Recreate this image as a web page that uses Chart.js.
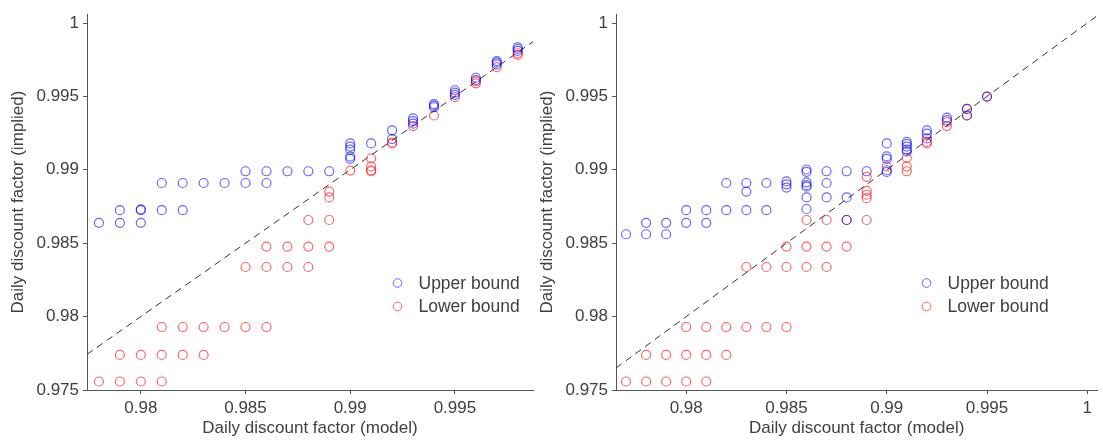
<!DOCTYPE html>
<html>
<head>
<meta charset="utf-8">
<script src="https://cdn.jsdelivr.net/npm/chart.js@4.4.0/dist/chart.umd.min.js"></script>
<style>
  html, body { margin: 0; padding: 0; background: #fff; }
  body { width: 1103px; height: 443px; position: relative; overflow: hidden; }
  .box { position: absolute; top: 0; height: 443px; }
  #left { left: 0; width: 545px; }
  #right { left: 529px; width: 574px; }
</style>
</head>
<body>
<div class="box" id="left"><canvas id="chart-left"></canvas></div>
<div class="box" id="right"><canvas id="chart-right"></canvas></div>
<script>
// left panel
const leftUpperX = [0.978, 0.979, 0.979, 0.98, 0.98, 0.98, 0.981, 0.981, 0.982, 0.982, 0.983, 0.984, 0.985, 0.985, 0.986, 0.986, 0.987, 0.988, 0.989, 0.99, 0.99, 0.99, 0.99, 0.99, 0.991, 0.992, 0.992, 0.993, 0.993, 0.993, 0.994, 0.994, 0.994, 0.995, 0.995, 0.995, 0.996, 0.996, 0.997, 0.997, 0.997, 0.998, 0.998, 0.998];
const leftUpperY = [0.98639, 0.98639, 0.98725, 0.98639, 0.98725, 0.98731, 0.98725, 0.9891, 0.98725, 0.9891, 0.9891, 0.9891, 0.9891, 0.9899, 0.9891, 0.9899, 0.9899, 0.9899, 0.9899, 0.9918, 0.99158, 0.99137, 0.9909, 0.99075, 0.9918, 0.99269, 0.99209, 0.9935, 0.99332, 0.99314, 0.99448, 0.99437, 0.99426, 0.99542, 0.99526, 0.99511, 0.99627, 0.99611, 0.99741, 0.9973, 0.99718, 0.99834, 0.99823, 0.9981];
const leftLowerX = [0.978, 0.979, 0.979, 0.98, 0.98, 0.981, 0.981, 0.981, 0.982, 0.982, 0.983, 0.983, 0.984, 0.985, 0.985, 0.986, 0.986, 0.986, 0.987, 0.987, 0.988, 0.988, 0.988, 0.989, 0.989, 0.989, 0.989, 0.99, 0.991, 0.991, 0.991, 0.991, 0.992, 0.992, 0.993, 0.994, 0.995, 0.996, 0.996, 0.997, 0.998, 0.998];
const leftLowerY = [0.97558, 0.97558, 0.97739, 0.97558, 0.97739, 0.97558, 0.97739, 0.97929, 0.97739, 0.97929, 0.97739, 0.97929, 0.97929, 0.97929, 0.98338, 0.97929, 0.98338, 0.98477, 0.98338, 0.98477, 0.98338, 0.98477, 0.98658, 0.98477, 0.98658, 0.98812, 0.98852, 0.98995, 0.9899, 0.98997, 0.99023, 0.99077, 0.9918, 0.99186, 0.99298, 0.9937, 0.99495, 0.99589, 0.99602, 0.997, 0.99794, 0.99783];

// right panel
const rightUpperX = [0.977, 0.978, 0.978, 0.979, 0.979, 0.98, 0.98, 0.981, 0.981, 0.982, 0.982, 0.983, 0.983, 0.983, 0.984, 0.984, 0.985, 0.985, 0.985, 0.986, 0.986, 0.986, 0.986, 0.986, 0.986, 0.986, 0.987, 0.987, 0.987, 0.988, 0.988, 0.988, 0.989, 0.99, 0.99, 0.99, 0.99, 0.99, 0.991, 0.991, 0.991, 0.991, 0.991, 0.992, 0.992, 0.992, 0.993, 0.993, 0.994, 0.994, 0.995];
const rightUpperY = [0.98561, 0.98561, 0.98639, 0.98561, 0.98639, 0.98639, 0.98725, 0.98639, 0.98725, 0.98725, 0.9891, 0.98725, 0.98852, 0.9891, 0.98725, 0.9891, 0.98879, 0.98901, 0.98921, 0.98733, 0.98812, 0.98885, 0.98895, 0.98915, 0.98986, 0.99002, 0.98812, 0.9891, 0.9899, 0.98658, 0.98812, 0.9899, 0.9899, 0.98985, 0.98997, 0.99075, 0.99091, 0.9918, 0.99124, 0.99138, 0.99158, 0.99176, 0.99191, 0.99214, 0.99247, 0.99269, 0.99339, 0.99355, 0.9937, 0.99415, 0.99499];
const rightLowerX = [0.977, 0.978, 0.978, 0.979, 0.979, 0.98, 0.98, 0.98, 0.981, 0.981, 0.981, 0.982, 0.982, 0.983, 0.983, 0.984, 0.984, 0.985, 0.985, 0.985, 0.986, 0.986, 0.986, 0.987, 0.987, 0.987, 0.988, 0.988, 0.989, 0.989, 0.989, 0.989, 0.989, 0.99, 0.991, 0.991, 0.991, 0.992, 0.992, 0.993, 0.993, 0.994, 0.994, 0.995];
const rightLowerY = [0.97558, 0.97558, 0.97739, 0.97558, 0.97739, 0.97558, 0.97739, 0.97929, 0.97558, 0.97739, 0.97929, 0.97739, 0.97929, 0.97929, 0.98338, 0.97929, 0.98338, 0.97929, 0.98338, 0.98477, 0.98338, 0.98477, 0.98658, 0.98338, 0.98477, 0.98658, 0.98477, 0.98658, 0.98658, 0.98807, 0.9883, 0.98856, 0.98952, 0.99024, 0.9899, 0.99024, 0.99082, 0.9918, 0.9919, 0.99298, 0.99325, 0.9937, 0.99415, 0.99499];

// axes
const yTicks = [0.975, 0.98, 0.985, 0.99, 0.995, 1];
const yTickLabels = ["0.975", "0.98", "0.985", "0.99", "0.995", "1"];
const leftXTicks = [0.98, 0.985, 0.99, 0.995];
const leftXTickLabels = ["0.98", "0.985", "0.99", "0.995"];
const rightXTicks = [0.98, 0.985, 0.99, 0.995, 1];
const rightXTickLabels = ["0.98", "0.985", "0.99", "0.995", "1"];
const leftRange = [0.97743, 0.99873];
const rightRange = [0.9765, 1.0005];
const yRange = [0.975, 1.0006];

const seriesNames = ["Upper bound", "Lower bound"];
const xTitle = "Daily discount factor (model)";
const yTitle = "Daily discount factor (implied)";

const BLUE = "rgba(0,0,255,0.6)";
const RED = "rgba(255,0,0,0.6)";
const FONT = "'Liberation Sans', Arial, Helvetica, sans-serif";
const TEXT = "#404040";
const AXIS = "#555";

function zip(xs, ys) {
    return xs.map((x, i) => ({ x: x, y: ys[i] }));
}

const legendBox = {
    id: "legendBox",
    afterDatasetsDraw(chart) {
        const ctx = chart.ctx;
        const colors = [BLUE, RED];
        ctx.save();
        ctx.font = "17.5px " + FONT;
        ctx.textBaseline = "middle";
        ctx.textAlign = "left";
        for (let i = 0; i < seriesNames.length; i++) {
            const y = 283 + i * 23.5;
            ctx.beginPath();
            ctx.arc(397.5, y, 4.3, 0, Math.PI * 2);
            ctx.strokeStyle = colors[i];
            ctx.lineWidth = 1;
            ctx.stroke();
            ctx.fillStyle = TEXT;
            ctx.fillText(seriesNames[i], 418.5, y + 1);
        }
        ctx.restore();
    },
};

function makeChart(id, upper, lower, xRange, xTicks, xLabels, rightPad) {
    new Chart(document.getElementById(id), {
        type: "scatter",
        data: {
            datasets: [
                {
                    label: seriesNames[0],
                    data: upper,
                    borderColor: BLUE,
                    backgroundColor: "rgba(0,0,0,0)",
                    borderWidth: 1.2,
                    pointRadius: 4.5,
                },
                {
                    label: seriesNames[1],
                    data: lower,
                    borderColor: RED,
                    backgroundColor: "rgba(0,0,0,0)",
                    borderWidth: 1.2,
                    pointRadius: 4.5,
                },
                {
                    type: "line",
                    label: "y = x",
                    data: [
                        { x: xRange[0], y: xRange[0] },
                        { x: xRange[1], y: xRange[1] },
                    ],
                    borderColor: "#333",
                    borderWidth: 1,
                    borderDash: [7, 5],
                    pointRadius: 0,
                    fill: false,
                },
            ],
        },
        options: {
            responsive: true,
            maintainAspectRatio: false,
            animation: false,
            events: [],
            layout: { padding: { top: 7, right: rightPad, left: 0, bottom: 0 } },
            plugins: {
                legend: { display: false },
                tooltip: { enabled: false },
            },
            scales: {
                x: {
                    type: "linear",
                    min: xRange[0],
                    max: xRange[1],
                    afterBuildTicks: (scale) => {
                        scale.ticks = xTicks.map((v) => ({ value: v }));
                    },
                    afterFit: (scale) => {
                        scale.height = 53;
                    },
                    ticks: {
                        autoSkip: false,
                        maxRotation: 0,
                        padding: 4,
                        color: TEXT,
                        font: { family: FONT, size: 17 },
                        callback: (v, i) => xLabels[i],
                    },
                    grid: { drawOnChartArea: false, drawTicks: true, tickLength: 4, color: AXIS },
                    border: { display: true, color: AXIS, width: 1 },
                    title: {
                        display: true,
                        text: xTitle,
                        color: TEXT,
                        font: { family: FONT, size: 17 },
                        padding: { top: 0, bottom: 4 },
                    },
                },
                y: {
                    type: "linear",
                    min: yRange[0],
                    max: yRange[1],
                    afterBuildTicks: (scale) => {
                        scale.ticks = yTicks.map((v) => ({ value: v }));
                    },
                    afterFit: (scale) => {
                        scale.width = 87;
                    },
                    ticks: {
                        autoSkip: false,
                        padding: 4,
                        color: TEXT,
                        font: { family: FONT, size: 17 },
                        callback: (v, i) => yTickLabels[i],
                    },
                    grid: { drawOnChartArea: false, drawTicks: true, tickLength: 4, color: AXIS },
                    border: { display: true, color: AXIS, width: 1 },
                    title: {
                        display: true,
                        text: yTitle,
                        color: TEXT,
                        font: { family: FONT, size: 17 },
                        padding: { top: 8, bottom: 0 },
                    },
                },
            },
        },
        plugins: [legendBox],
    });
}

makeChart("chart-left", zip(leftUpperX, leftUpperY), zip(leftLowerX, leftLowerY), leftRange, leftXTicks, leftXTickLabels, 12);
makeChart("chart-right", zip(rightUpperX, rightUpperY), zip(rightLowerX, rightLowerY), rightRange, rightXTicks, rightXTickLabels, 4);
</script>
</body>
</html>
